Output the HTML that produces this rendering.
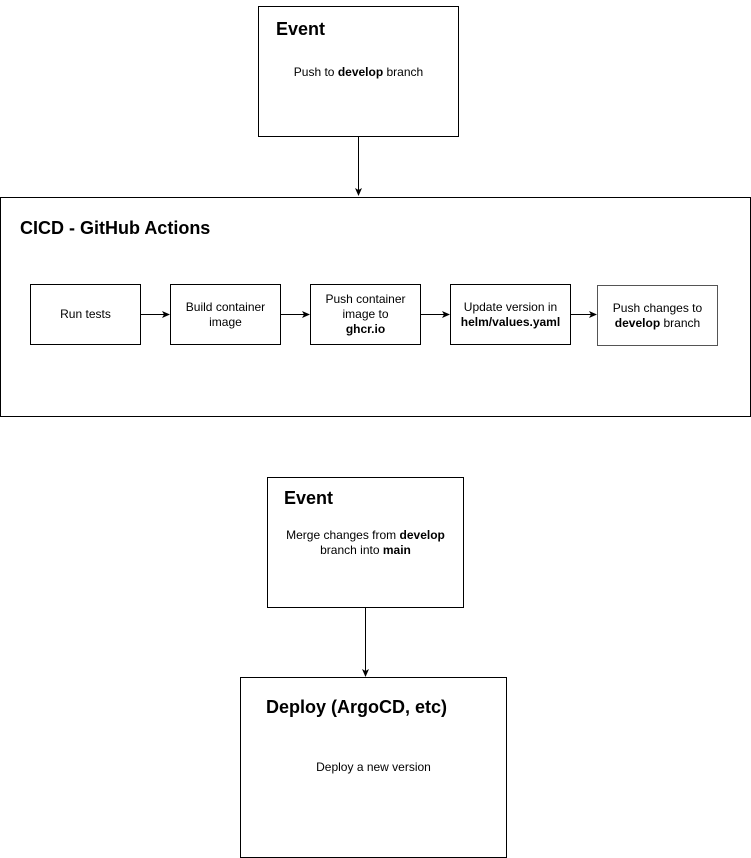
<!DOCTYPE html>
<html><head><style>
body{margin:0;width:751px;height:858px;background:#fff;position:relative;font-family:"Liberation Sans",sans-serif;color:#000;overflow:hidden}
.b{position:absolute;border:1px solid #000;box-sizing:border-box;background:#fff}
.t{position:absolute;font-weight:bold;font-size:18px}
.s{position:absolute;font-size:12px;text-align:center;line-height:15px}
.p{display:flex;align-items:center;justify-content:center;text-align:center;font-size:12px;line-height:15px}
svg{position:absolute;left:0;top:0}
</style></head><body>
<div class="b" style="left:258px;top:6px;width:201px;height:131px"></div>
<div class="t" style="left:276px;top:19px">Event</div>
<div class="s" style="left:258px;top:65px;width:201px">Push to <b>develop</b> branch</div>

<div class="b" style="left:0;top:197px;width:751px;height:220px"></div>
<div class="t" style="left:20px;top:218px">CICD - GitHub Actions</div>
<div class="b p" style="left:30px;top:284px;width:111px;height:61px"><span>Run tests</span></div>
<div class="b p" style="left:170px;top:284px;width:111px;height:61px"><span>Build container<br>image</span></div>
<div class="b p" style="left:310px;top:284px;width:111px;height:61px"><span>Push container<br>image to<br><b>ghcr.io</b></span></div>
<div class="b p" style="left:450px;top:284px;width:121px;height:61px"><span>Update version in<br><b>helm/values.yaml</b></span></div>
<div class="b p" style="left:597px;top:285px;width:121px;height:61px;border-color:#555"><span>Push changes to<br><b>develop</b> branch</span></div>

<div class="b" style="left:267px;top:477px;width:197px;height:131px"></div>
<div class="t" style="left:284px;top:488px">Event</div>
<div class="s" style="left:267px;top:528px;width:197px">Merge changes from <b>develop</b><br>branch into <b>main</b></div>

<div class="b" style="left:240px;top:677px;width:267px;height:181px"></div>
<div class="t" style="left:266px;top:697px">Deploy (ArgoCD, etc)</div>
<div class="s" style="left:240px;top:760px;width:267px">Deploy a new version</div>

<svg width="751" height="858">
<defs><marker id="a" markerWidth="8" markerHeight="8" refX="7" refY="4" orient="auto" markerUnits="userSpaceOnUse"><path d="M0,0.5 L8,4 L0,7.5 L2,4z" fill="#000"/></marker></defs>
<g stroke="#000" stroke-width="1" marker-end="url(#a)">
<line x1="358.5" y1="137" x2="358.5" y2="195"/>
<line x1="141" y1="314.5" x2="169" y2="314.5"/>
<line x1="281" y1="314.5" x2="309" y2="314.5"/>
<line x1="421" y1="314.5" x2="449" y2="314.5"/>
<line x1="571" y1="314.5" x2="596" y2="314.5"/>
<line x1="365.5" y1="608" x2="365.5" y2="676"/>
</g></svg>
</body></html>
